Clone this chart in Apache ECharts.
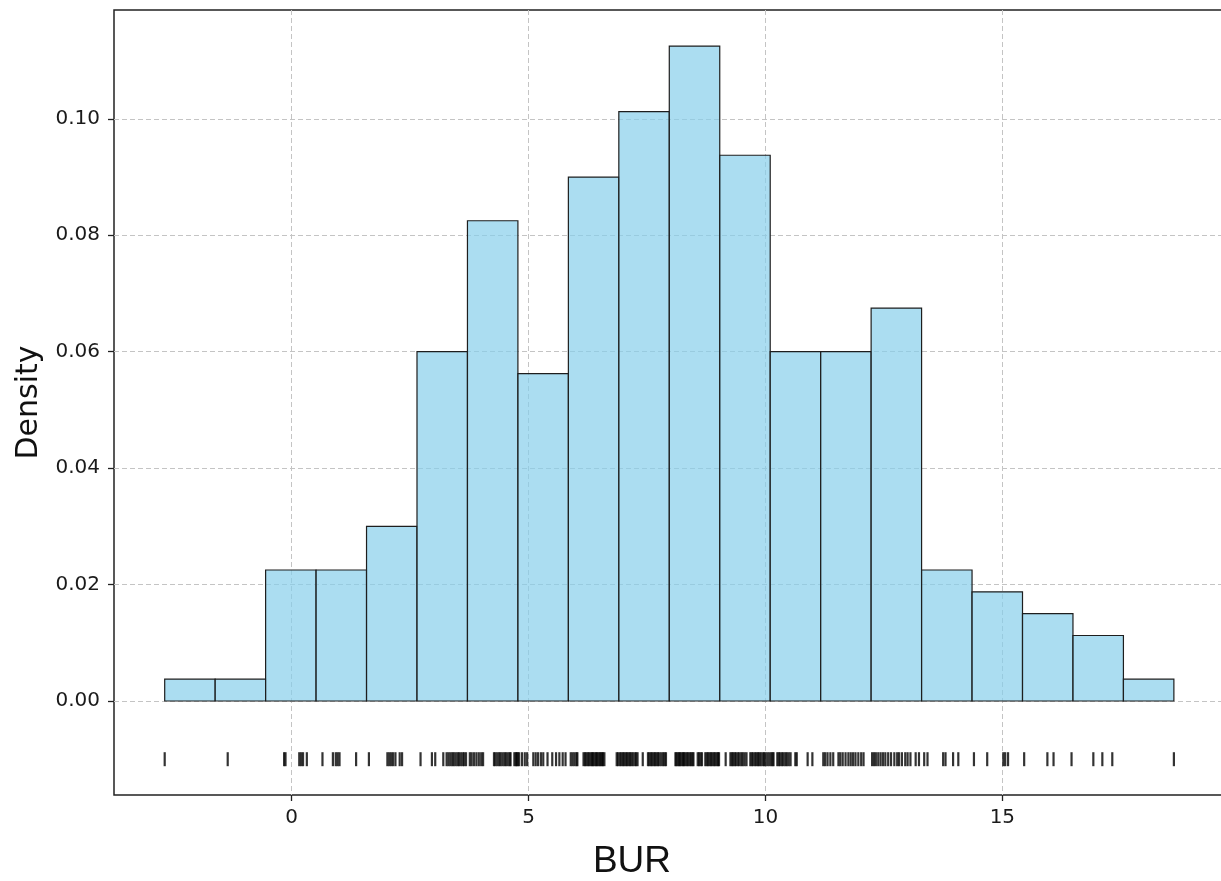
<!DOCTYPE html>
<html>
<head>
<meta charset="utf-8">
<script src="https://cdn.jsdelivr.net/npm/echarts@6/dist/echarts.min.js"></script>
<style>
  html, body { margin: 0; padding: 0; background: #fff; }
  #chart { width: 1221px; height: 881px; }
</style>
</head>
<body>
<div id="chart"></div>
<script>
// histogram bins (density), 20 bins of equal width
const binStart = -2.68;
const binWidth = 1.065;
const density = [0.00375, 0.00375, 0.0225, 0.0225, 0.03, 0.06, 0.0825, 0.05625, 0.09, 0.10125,
  0.1125, 0.09375, 0.06, 0.06, 0.0675, 0.0225, 0.01875, 0.015, 0.01125, 0.00375];

const rugValues = [
  -2.68, -1.35,
  -0.16, -0.13, 0.16, 0.2, 0.24, 0.32,
  0.65, 0.87, 0.93, 0.97, 1.01, 1.36,
  1.63, 2.02, 2.06, 2.1, 2.14, 2.19, 2.28, 2.33,
  2.72, 2.96, 3.03, 3.2, 3.27, 3.31, 3.35, 3.39, 3.42, 3.46, 3.5, 3.53, 3.57, 3.61, 3.64, 3.68,
  3.76, 3.8, 3.85, 3.9, 3.95, 4.0, 4.04, 4.27, 4.3, 4.34, 4.38, 4.41, 4.45, 4.49, 4.52, 4.56, 4.6, 4.62, 4.7, 4.73, 4.75, 4.77,
  4.8, 4.86, 4.92, 4.97, 5.1, 5.15, 5.2, 5.26, 5.31, 5.4, 5.5, 5.58, 5.65, 5.72, 5.78,
  5.89, 5.93, 5.97, 6.01, 6.03, 6.16, 6.19, 6.22, 6.25, 6.28, 6.31, 6.34, 6.36, 6.39, 6.42, 6.44, 6.47, 6.5, 6.52, 6.55, 6.57, 6.6, 6.86, 6.89,
  6.93, 6.96, 6.99, 7.02, 7.05, 7.08, 7.11, 7.14, 7.17, 7.2, 7.24, 7.27, 7.3, 7.41, 7.52, 7.55, 7.58, 7.61, 7.64, 7.67, 7.7, 7.73, 7.76, 7.8, 7.84, 7.87, 7.9,
  8.1, 8.12, 8.15, 8.18, 8.2, 8.23, 8.26, 8.28, 8.31, 8.34, 8.37, 8.4, 8.43, 8.46, 8.48, 8.57, 8.6, 8.63, 8.66,
  8.73, 8.76, 8.79, 8.82, 8.85, 8.88, 8.91, 8.94, 8.97, 9.0, 9.02,
  9.16, 9.26, 9.29, 9.32, 9.35, 9.38, 9.42, 9.45, 9.49, 9.52, 9.56, 9.6, 9.68, 9.71, 9.74, 9.78, 9.81, 9.84, 9.87, 9.9, 9.94, 9.97, 10.0, 10.04, 10.08,
  10.12, 10.15, 10.17, 10.25, 10.28, 10.31, 10.35, 10.38, 10.42, 10.45, 10.49, 10.53, 10.63, 10.66, 10.89, 10.99,
  11.22, 11.26, 11.31, 11.37, 11.43, 11.54, 11.58, 11.63, 11.69, 11.75, 11.8, 11.85, 11.9, 11.96, 12.02, 12.07,
  12.25, 12.29, 12.33, 12.38, 12.43, 12.48, 12.53, 12.59, 12.65, 12.72, 12.78, 12.82, 12.88, 12.95, 13.0, 13.06, 13.17, 13.24,
  13.35, 13.42, 13.75, 13.8, 13.96, 14.07,
  14.4, 14.68, 15.02, 15.06, 15.12,
  15.46, 15.95, 16.08, 16.46,
  16.92, 17.11, 17.32,
  18.62
];
const rugLevel = -0.01;

const xTicks = [0, 5, 10, 15];
const yTicks = [0, 0.02, 0.04, 0.06, 0.08, 0.1];

const barData = density.map((d, i) => [binStart + i * binWidth, binStart + (i + 1) * binWidth, d]);
const rugData = rugValues.map(v => [v, rugLevel]);

const chart = echarts.init(document.getElementById("chart"));
const gridLine = { show: true, lineStyle: { color: "#c4c4c4", type: [5, 3], width: 1 } };
const tickStyle = { show: true, length: 6, lineStyle: { color: "#222", width: 1.3 } };

chart.setOption({
  animation: false,
  backgroundColor: "#fff",
  grid: {
    left: 114, top: 10, width: 1112, bottom: 86,
    outerBoundsMode: "none",
    show: true, borderColor: "#222", borderWidth: 1.5, backgroundColor: "transparent"
  },
  xAxis: {
    type: "value",
    min: -3.75,
    max: 19.72,
    axisLine: { show: false, onZero: false },
    axisTick: Object.assign({ customValues: xTicks }, tickStyle),
    axisLabel: {
      customValues: xTicks, margin: 13, color: "#1a1a1a",
      fontFamily: "DejaVu Sans", fontSize: 20
    },
    splitLine: gridLine,
    name: "BUR",
    nameLocation: "middle",
    nameGap: 48,
    nameTextStyle: { fontFamily: "Liberation Sans", fontSize: 37, color: "#111", padding: [0, 76, 0, 0] }
  },
  yAxis: {
    type: "value",
    min: -0.01615,
    max: 0.1187,
    axisLine: { show: false, onZero: false },
    axisTick: Object.assign({ customValues: yTicks }, tickStyle),
    axisLabel: {
      customValues: yTicks, margin: 14, color: "#1a1a1a",
      fontFamily: "DejaVu Sans", fontSize: 20,
      formatter: v => v.toFixed(2)
    },
    splitLine: gridLine,
    name: "Density",
    nameLocation: "middle",
    nameGap: 70,
    nameTextStyle: { fontFamily: "DejaVu Sans", fontSize: 30, color: "#111" }
  },
  series: [
    {
      type: "custom",
      data: barData,
      encode: { x: [0, 1], y: 2 },
      renderItem: (params, api) => {
        const p0 = api.coord([api.value(0), api.value(2)]);
        const p1 = api.coord([api.value(1), 0]);
        return {
          type: "rect",
          shape: { x: p0[0], y: p0[1], width: p1[0] - p0[0], height: p1[1] - p0[1] },
          style: { fill: "rgba(135,206,235,0.7)", stroke: "#1e1e1e", lineWidth: 1.2 }
        };
      }
    },
    {
      type: "scatter",
      data: rugData,
      symbol: "rect",
      symbolSize: [2.2, 14],
      itemStyle: { color: "#000" },
      silent: true
    }
  ]
});
</script>
</body>
</html>
